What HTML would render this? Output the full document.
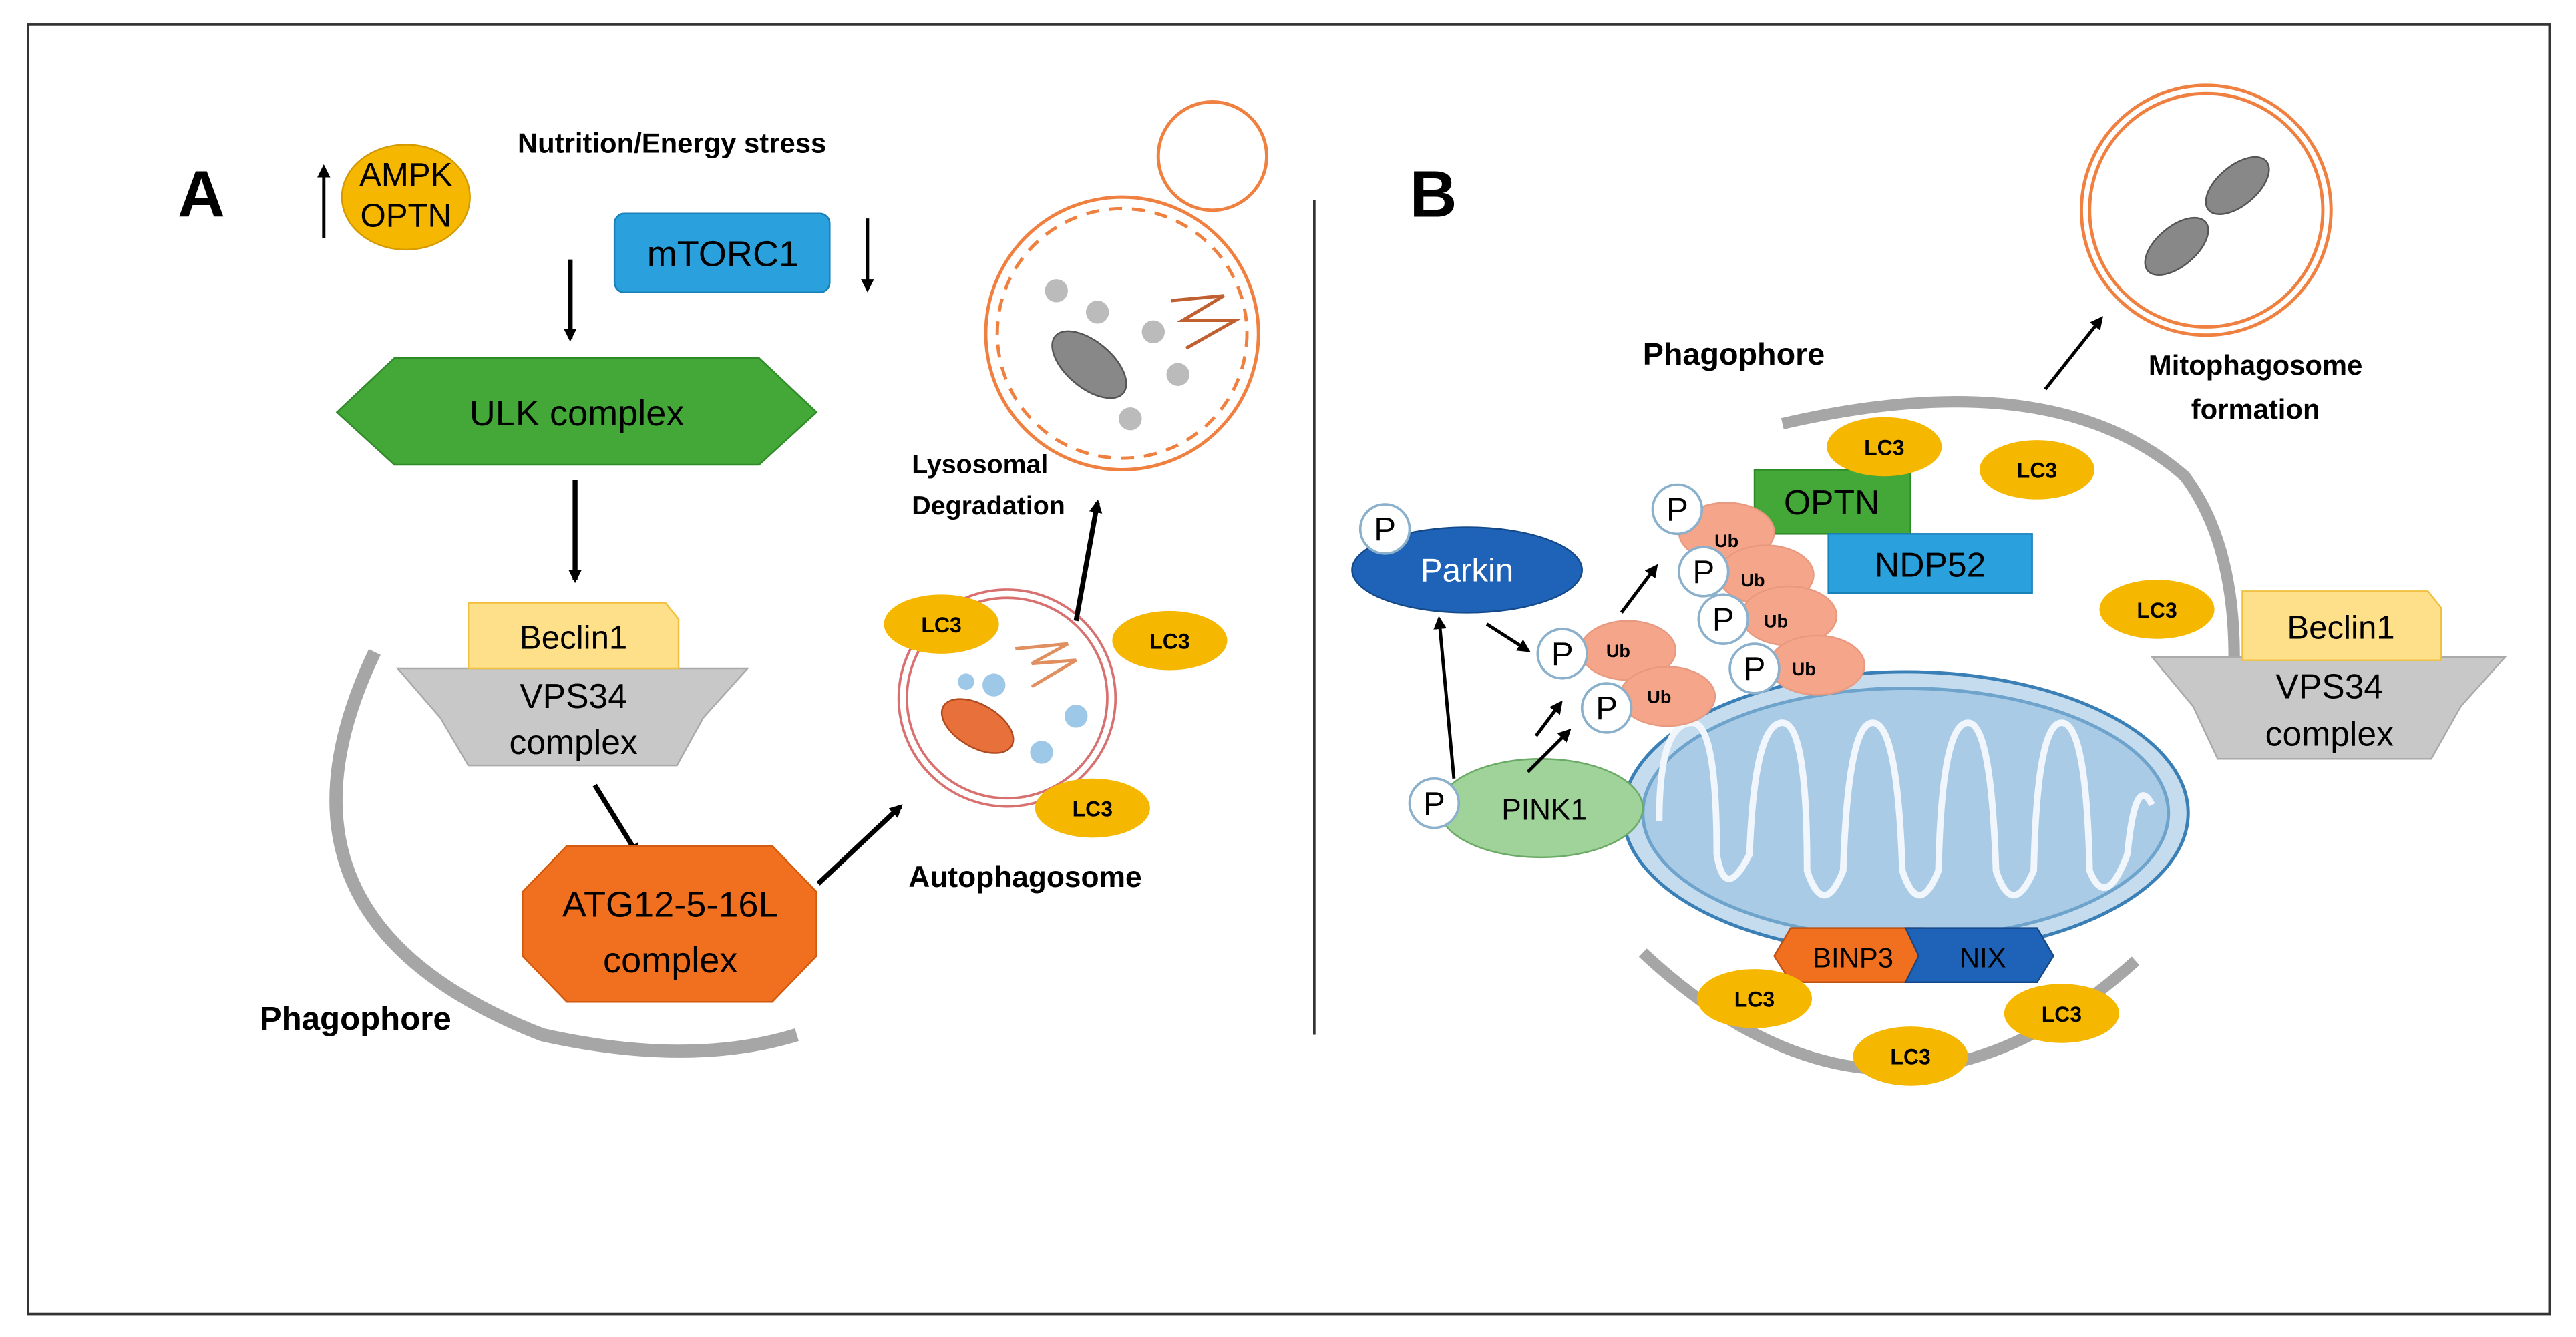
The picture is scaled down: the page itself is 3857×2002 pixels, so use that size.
<!DOCTYPE html>
<html><head><meta charset="utf-8"><style>
html,body{margin:0;padding:0;background:#fff;}
svg{display:block;}
text{font-family:"Liberation Sans",sans-serif;}
</style></head><body>
<svg width="3857" height="2002" viewBox="0 0 1568 814" xmlns="http://www.w3.org/2000/svg">
<defs>
<marker id="ah" markerWidth="8" markerHeight="8" refX="6" refY="4" orient="auto" markerUnits="userSpaceOnUse"><path d="M0,0 L8,4 L0,8 z" fill="#000"/></marker>
</defs>
<rect x="0" y="0" width="1568" height="814" fill="#fff"/>
<rect x="17" y="15" width="1535" height="785" fill="none" stroke="#333" stroke-width="1.5"/>
<line x1="800" y1="122" x2="800" y2="630" stroke="#333" stroke-width="1.5"/>
<text x="108" y="132" font-size="40" font-weight="bold">A</text>
<text x="858" y="132" font-size="40" font-weight="bold">B</text>

<!-- Panel A -->
<text x="315" y="93" font-size="17" font-weight="bold">Nutrition/Energy  stress</text>
<line x1="197" y1="145" x2="197" y2="102" stroke="#000" stroke-width="2" marker-end="url(#ah)"/>
<ellipse cx="247" cy="120" rx="39" ry="32" fill="#f5b700" stroke="#d49a00"/>
<text x="247" y="113" font-size="20" text-anchor="middle">AMPK</text>
<text x="247" y="138" font-size="20" text-anchor="middle">OPTN</text>
<rect x="374" y="130" width="131" height="48" rx="6" fill="#2aa0dc" stroke="#1a80b8"/>
<text x="440" y="162" font-size="22" text-anchor="middle">mTORC1</text>
<line x1="528" y1="133" x2="528" y2="176" stroke="#000" stroke-width="2" marker-end="url(#ah)"/>
<line x1="347" y1="158" x2="347" y2="206" stroke="#000" stroke-width="3" marker-end="url(#ah)"/>
<polygon points="205,251 240,218 462,218 497,251 462,283 240,283" fill="#43a838" stroke="#2f8a28"/>
<text x="351" y="259" font-size="22" text-anchor="middle">ULK complex</text>
<line x1="350" y1="292" x2="350" y2="353" stroke="#000" stroke-width="3" marker-end="url(#ah)"/>
<path d="M228 397 Q150 560 330 630 Q420 650 485 630" fill="none" stroke="#a6a6a6" stroke-width="8"/>
<polygon points="242,407 455,407 428,437 412,466 285,466 268,437" fill="#c8c8c8" stroke="#aaa"/>
<path d="M285 367 L405 367 L413 377 L413 407 L285 407 z" fill="#ffe08a" stroke="#f0c040"/>
<text x="349" y="395" font-size="20" text-anchor="middle">Beclin1</text>
<text x="349" y="431" font-size="21" text-anchor="middle">VPS34</text>
<text x="349" y="459" font-size="21" text-anchor="middle">complex</text>
<line x1="362" y1="478" x2="388" y2="520" stroke="#000" stroke-width="3" marker-end="url(#ah)"/>
<polygon points="345,515 470,515 497,543 497,582 470,610 345,610 318,582 318,543" fill="#f07020" stroke="#d05a10"/>
<text x="408" y="558" font-size="22" text-anchor="middle">ATG12-5-16L</text>
<text x="408" y="592" font-size="22" text-anchor="middle">complex</text>
<text x="158" y="627" font-size="20" font-weight="bold">Phagophore</text>
<line x1="498" y1="538" x2="548" y2="491" stroke="#000" stroke-width="3" marker-end="url(#ah)"/>
<circle cx="613" cy="425" r="66" fill="#fff" stroke="#d87070" stroke-width="1.5"/>
<circle cx="613" cy="425" r="61" fill="none" stroke="#d87070" stroke-width="1.5"/>
<ellipse cx="595" cy="442" rx="24" ry="13" transform="rotate(30 595 442)" fill="#e8703a" stroke="#b04a20"/>
<circle cx="605" cy="417" r="7" fill="#9ec8e8"/><circle cx="655" cy="436" r="7" fill="#9ec8e8"/>
<circle cx="634" cy="458" r="7" fill="#9ec8e8"/><circle cx="588" cy="415" r="5" fill="#9ec8e8"/>
<path d="M618 395 L650 392 L628 404 L655 402 L628 418" fill="none" stroke="#e09060" stroke-width="2"/>
<ellipse cx="573" cy="380" rx="35" ry="18" fill="#f5b700"/><text x="573" y="385" font-size="13" font-weight="bold" text-anchor="middle">LC3</text>
<ellipse cx="712" cy="390" rx="35" ry="18" fill="#f5b700"/><text x="712" y="395" font-size="13" font-weight="bold" text-anchor="middle">LC3</text>
<ellipse cx="665" cy="492" rx="35" ry="18" fill="#f5b700"/><text x="665" y="497" font-size="13" font-weight="bold" text-anchor="middle">LC3</text>
<text x="553" y="540" font-size="18" font-weight="bold">Autophagosome</text>
<line x1="655" y1="378" x2="668" y2="306" stroke="#000" stroke-width="3" marker-end="url(#ah)"/>
<text x="555" y="288" font-size="16" font-weight="bold">Lysosomal</text>
<text x="555" y="313" font-size="16" font-weight="bold">Degradation</text>
<circle cx="683" cy="203" r="83" fill="#fff" stroke="#f08040" stroke-width="2"/>
<circle cx="683" cy="203" r="76" fill="none" stroke="#f08040" stroke-width="2" stroke-dasharray="8,6"/>
<circle cx="738" cy="95" r="33" fill="#fff" stroke="#f08040" stroke-width="2"/>
<ellipse cx="663" cy="222" rx="27" ry="14" transform="rotate(40 663 222)" fill="#888" stroke="#555"/>
<circle cx="643" cy="177" r="7" fill="#bbb"/><circle cx="668" cy="190" r="7" fill="#bbb"/><circle cx="702" cy="202" r="7" fill="#bbb"/>
<circle cx="717" cy="228" r="7" fill="#bbb"/><circle cx="688" cy="255" r="7" fill="#bbb"/>
<path d="M713 183 L745 180 L720 195 L752 195 L722 212" fill="none" stroke="#c06030" stroke-width="2"/>

<!-- Panel B -->
<text x="1000" y="222" font-size="19" font-weight="bold">Phagophore</text>
<path d="M1085 258 Q1250 220 1330 290 Q1360 330 1360 400" fill="none" stroke="#a6a6a6" stroke-width="7"/>
<path d="M1000 580 Q1150 720 1300 585" fill="none" stroke="#a6a6a6" stroke-width="7"/>
<line x1="1245" y1="237" x2="1279" y2="194" stroke="#000" stroke-width="2" marker-end="url(#ah)"/>
<circle cx="1343" cy="128" r="76" fill="#fff" stroke="#f08040" stroke-width="2"/>
<circle cx="1343" cy="128" r="71" fill="none" stroke="#f08040" stroke-width="2"/>
<ellipse cx="1325" cy="150" rx="23" ry="12" transform="rotate(-40 1325 150)" fill="#888" stroke="#555"/>
<ellipse cx="1362" cy="113" rx="23" ry="12" transform="rotate(-40 1362 113)" fill="#888" stroke="#555"/>
<text x="1373" y="228" font-size="17" font-weight="bold" text-anchor="middle">Mitophagosome</text>
<text x="1373" y="255" font-size="17" font-weight="bold" text-anchor="middle">formation</text>
<!-- mitochondrion -->
<ellipse cx="1160" cy="495" rx="172" ry="86" fill="#c4dcee" stroke="#3a7fb5" stroke-width="2"/>
<ellipse cx="1160" cy="495" rx="160" ry="76" fill="#a9cbe6" stroke="#6ea3cc" stroke-width="2"/>
<path d="M1010 500 Q1010 440 1030 440 Q1045 440 1045 520 Q1050 550 1065 520 Q1068 440 1085 440 Q1100 440 1100 530 Q1110 560 1122 530 Q1125 440 1140 440 Q1155 440 1158 530 Q1168 560 1180 530 Q1182 440 1198 440 Q1212 440 1215 530 Q1225 560 1238 530 Q1240 440 1255 440 Q1270 440 1272 530 Q1282 555 1295 520 Q1300 470 1310 490" fill="none" stroke="#f0f6fb" stroke-width="4"/>
<!-- OPTN / NDP52 -->
<rect x="1068" y="286" width="95" height="39" fill="#43a838" stroke="#2f8a28"/>
<text x="1115" y="313" font-size="21" text-anchor="middle">OPTN</text>
<rect x="1113" y="325" width="124" height="36" fill="#2aa0dc" stroke="#1a80b8"/>
<text x="1175" y="351" font-size="21" text-anchor="middle">NDP52</text>
<!-- Ubs -->
<g fill="#f4a58a" stroke="#e89a80">
<ellipse cx="1051" cy="324" rx="29" ry="18"/><ellipse cx="1075" cy="350" rx="29" ry="18"/>
<ellipse cx="1089" cy="375" rx="29" ry="18"/><ellipse cx="1106" cy="405" rx="29" ry="18"/>
<ellipse cx="991" cy="396" rx="29" ry="18"/><ellipse cx="1015" cy="424" rx="29" ry="18"/>
</g>
<g font-size="11" font-weight="bold" text-anchor="middle">
<text x="1051" y="333">Ub</text><text x="1067" y="357">Ub</text><text x="1081" y="382">Ub</text><text x="1098" y="411">Ub</text>
<text x="985" y="400">Ub</text><text x="1010" y="428">Ub</text>
</g>
<g fill="#fff" stroke="#8ab0cc" stroke-width="1.5">
<circle cx="1021" cy="310" r="15"/><circle cx="1037" cy="348" r="15"/><circle cx="1049" cy="377" r="15"/>
<circle cx="1068" cy="407" r="15"/><circle cx="951" cy="398" r="15"/><circle cx="978" cy="431" r="15"/>
</g>
<g font-size="20" text-anchor="middle">
<text x="1021" y="317">P</text><text x="1037" y="355">P</text><text x="1049" y="384">P</text><text x="1068" y="414">P</text>
<text x="951" y="405">P</text><text x="978" y="438">P</text>
</g>
<ellipse cx="893" cy="347" rx="70" ry="26" fill="#1f63b8" stroke="#154a8a"/>
<circle cx="843" cy="322" r="15" fill="#fff" stroke="#8ab0cc" stroke-width="1.5"/><text x="843" y="329" font-size="20" text-anchor="middle">P</text>
<text x="893" y="354" font-size="20" fill="#fff" text-anchor="middle">Parkin</text>
<ellipse cx="938" cy="492" rx="62" ry="30" fill="#9fd39a" stroke="#6aaa64"/>
<circle cx="873" cy="489" r="15" fill="#fff" stroke="#8ab0cc" stroke-width="1.5"/><text x="873" y="496" font-size="20" text-anchor="middle">P</text>
<text x="940" y="499" font-size="18" text-anchor="middle">PINK1</text>
<line x1="885" y1="474" x2="876" y2="377" stroke="#000" stroke-width="2" marker-end="url(#ah)"/>
<line x1="905" y1="380" x2="930" y2="396" stroke="#000" stroke-width="2" marker-end="url(#ah)"/>
<line x1="930" y1="470" x2="955" y2="445" stroke="#000" stroke-width="2" marker-end="url(#ah)"/>
<line x1="935" y1="448" x2="950" y2="428" stroke="#000" stroke-width="2" marker-end="url(#ah)"/>
<line x1="987" y1="373" x2="1008" y2="345" stroke="#000" stroke-width="2" marker-end="url(#ah)"/>
<polygon points="1080,582 1090,565 1170,565 1170,598 1090,598" fill="#f07020" stroke="#c05010"/>
<polygon points="1160,565 1240,565 1250,582 1240,598 1160,598 1168,582" fill="#1f63b8" stroke="#154a8a"/>
<text x="1128" y="589" font-size="17" text-anchor="middle">BINP3</text>
<text x="1207" y="589" font-size="17" text-anchor="middle">NIX</text>
<g fill="#f5b700">
<ellipse cx="1147" cy="272" rx="35" ry="18"/><ellipse cx="1240" cy="286" rx="35" ry="18"/><ellipse cx="1313" cy="371" rx="35" ry="18"/>
<ellipse cx="1068" cy="608" rx="35" ry="18"/><ellipse cx="1255" cy="617" rx="35" ry="18"/><ellipse cx="1163" cy="643" rx="35" ry="18"/>
</g>
<g font-size="13" font-weight="bold" text-anchor="middle">
<text x="1147" y="277">LC3</text><text x="1240" y="291">LC3</text><text x="1313" y="376">LC3</text>
<text x="1068" y="613">LC3</text><text x="1255" y="622">LC3</text><text x="1163" y="648">LC3</text>
</g>
<polygon points="1310,400 1525,400 1498,430 1480,462 1350,462 1335,430" fill="#c8c8c8" stroke="#aaa"/>
<path d="M1365 360 L1478 360 L1486 370 L1486 402 L1365 402 z" fill="#ffe08a" stroke="#f0c040"/>
<text x="1425" y="389" font-size="20" text-anchor="middle">Beclin1</text>
<text x="1418" y="425" font-size="21" text-anchor="middle">VPS34</text>
<text x="1418" y="454" font-size="21" text-anchor="middle">complex</text>
</svg>
</body></html>
